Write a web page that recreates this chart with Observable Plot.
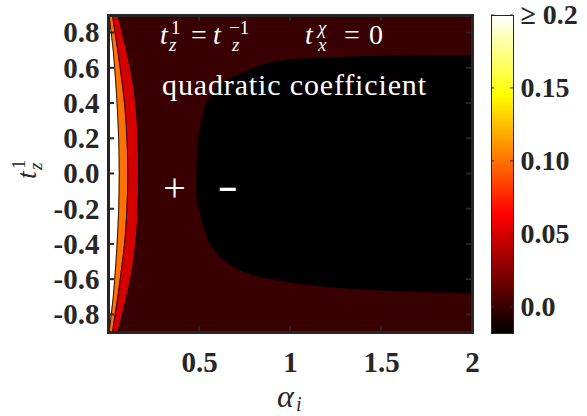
<!DOCTYPE html>
<html><head><meta charset="utf-8">
<script src="https://cdn.jsdelivr.net/npm/d3@7"></script>
<script src="https://cdn.jsdelivr.net/npm/@observablehq/plot@0.6"></script>
<style>
body{margin:0;background:#fff;}
#wrap{position:relative;width:587px;height:416px;overflow:hidden;}
#wrap svg{position:absolute;left:0;top:0;}
</style></head><body><div id="wrap"></div>
<script>
// ---------- data ----------
const tz = [0.9,0.8,0.7,0.6,0.5,0.4,0.3,0.2,0.1,0,-0.1,-0.2,-0.3,-0.4,-0.5,-0.6,-0.7,-0.8,-0.9];
const edgeWhite  = [0.004,0.015,0.026,0.034,0.041,0.047,0.052,0.056,0.058,0.059,0.058,0.056,0.052,0.047,0.041,0.034,0.026,0.015,0.004];
const edgeOrange = [0.022,0.036,0.051,0.064,0.077,0.088,0.096,0.101,0.105,0.106,0.105,0.101,0.096,0.088,0.077,0.064,0.051,0.036,0.022];
const edgeRed    = [0.052,0.077,0.100,0.121,0.138,0.150,0.158,0.163,0.165,0.166,0.165,0.163,0.158,0.150,0.138,0.121,0.100,0.077,0.052];
// boundary of the negative (black) region, x = alpha_i, y = t_z^1
const blackTz    = [0.675,0.672,0.668,0.660,0.647,0.620,0.584,0.540,0.470,0.400,0.340,0.190,0.000,-0.150,-0.210,-0.300,-0.400,-0.490,-0.567,-0.624,-0.664,-0.680];
const blackAlpha = [2.000,1.750,1.500,1.250,1.000,0.850,0.764,0.670,0.577,0.540,0.522,0.495,0.486,0.488,0.502,0.525,0.560,0.632,0.764,1.040,1.490,2.000];
// contour levels (fill value of each band)
const levelNegative = -0.018, levelBase = 0, levelRed = 0.05, levelOrange = 0.1, levelWhite = 0.2;
const alphaDomain = [0, 2];
const tzDomain = [-0.9, 0.9];
const xTicks = [0.5, 1, 1.5, 2];
const yTicks = [-0.8,-0.6,-0.4,-0.2,0,0.2,0.4,0.6,0.8];
const cDomain = [-0.018, 0.2];
const cTicks = [0, 0.05, 0.1, 0.15, 0.2];
const cTickLabels = ["0.0","0.05","0.10","0.15","\u2265 0.2"];
const plusPos = [0.363, -0.082];
const minusPos = [0.654, -0.077];

// ---------- "hot" colormap as a piecewise linear scale ----------
const hotBreaks = [0, 0.375, 0.75, 1];
const hotColors = ["#000000", "#ff0000", "#ffff00", "#ffffff"];
const colorOpts = {
  type: "linear",
  domain: hotBreaks.map(t => cDomain[0] + t * (cDomain[1] - cDomain[0])),
  range: hotColors,
  clamp: true
};

const rows = tz.map((y, i) => ({y, w: edgeWhite[i], o: edgeOrange[i], r: edgeRed[i]}));
const blackRows = blackTz.map((y, i) => ({y, x: blackAlpha[i]}));
const curve = "catmull-rom";
const axisColor = "#262626";
const tickFont = "'Liberation Serif', 'Times New Roman', serif";

const main = Plot.plot({
  width: 587, height: 416,
  marginLeft: 108, marginRight: 115, marginTop: 15, marginBottom: 84,
  style: {fontFamily: tickFont, fontWeight: "bold", fontSize: "29px", color: axisColor, background: "white"},
  x: {domain: alphaDomain},
  y: {domain: tzDomain},
  color: colorOpts,
  marks: [
    Plot.rect([levelBase], {x1: alphaDomain[0], x2: alphaDomain[1], y1: tzDomain[0], y2: tzDomain[1], fill: d => d}),
    Plot.areaX(blackRows, {y: "y", x1: "x", x2: alphaDomain[1], fill: () => levelNegative, curve}),
    Plot.areaX(rows, {y: "y", x1: alphaDomain[0], x2: "r", fill: () => levelRed, curve}),
    Plot.areaX(rows, {y: "y", x1: alphaDomain[0], x2: "o", fill: () => levelOrange, curve}),
    Plot.areaX(rows, {y: "y", x1: alphaDomain[0], x2: "w", fill: () => levelWhite, curve}),
    Plot.lineX(rows, {x: "r", y: "y", stroke: "black", strokeWidth: 0.8, curve}),
    Plot.lineX(rows, {x: "o", y: "y", stroke: "black", strokeWidth: 0.8, curve}),
    Plot.lineX(rows, {x: "w", y: "y", stroke: "black", strokeWidth: 0.8, curve}),
    Plot.text([plusPos], {x: d => d[0], y: d => d[1], text: () => "+", fill: "white", fontSize: 40, fontWeight: "normal", fontFamily: tickFont}),
    Plot.text([minusPos], {x: d => d[0], y: d => d[1], text: () => "\u2013", fill: "white", fontSize: 32, fontWeight: "bold", fontFamily: "'Liberation Sans', Arial, sans-serif"}),
    Plot.axisX(xTicks, {anchor: "bottom", tickSize: 0, tickPadding: 19, tickFormat: d => String(d), label: null}),
    Plot.axisY(yTicks, {anchor: "left", tickSize: 0, tickPadding: 9, tickFormat: d => d.toFixed(1), label: null}),
    Plot.frame({stroke: axisColor, strokeWidth: 3})
  ]
});

const sx = main.scale("x"), sy = main.scale("y");
const svg = d3.select(main);

// inward tick marks on all four sides, placed with the plot's scales
const tickLen = 6;
const [xr0, xr1] = sx.range, [yr0, yr1] = sy.range; // yr0 bottom, yr1 top
const tg = svg.append("g").attr("stroke", axisColor).attr("stroke-width", 2);
xTicks.forEach(v => {
  const px = sx.apply(v);
  tg.append("line").attr("x1", px).attr("x2", px).attr("y1", yr0).attr("y2", yr0 - tickLen);
  tg.append("line").attr("x1", px).attr("x2", px).attr("y1", yr1).attr("y2", yr1 + tickLen);
});
yTicks.forEach(v => {
  const py = sy.apply(v);
  tg.append("line").attr("y1", py).attr("y2", py).attr("x1", xr0).attr("x2", xr0 + tickLen);
  tg.append("line").attr("y1", py).attr("y2", py).attr("x1", xr1).attr("x2", xr1 - tickLen);
});

// LaTeX-like texts
const serif = "'Liberation Serif', 'Times New Roman', serif";
function piece(parent, x, y, str, size, italic, fill) {
  return parent.append("text").attr("x", x).attr("y", y).attr("font-size", size)
    .attr("text-anchor", "start")
    .attr("font-style", italic ? "italic" : "normal").attr("font-weight", "normal")
    .attr("font-family", serif).attr("fill", fill).text(str);
}
const ann = svg.append("g");
const a1x = sx.apply(0.28), a1y = sy.apply(0.738);
const line1 = [
  [1, 0, "t", 28, true], [12, -10, "1", 19, false], [10, 7, "z", 19, true],
  [32, 0, "=", 28, false],
  [54, 0, "t", 28, true], [70, -10, "\u22121", 19, false], [73, 7, "z", 19, true],
  [146, 0, "t", 28, true], [159, -10, "\u03c7", 19, true], [159, 7, "x", 19, true],
  [185, 0, "=", 28, false], [210, 0, "0", 28, false]
];
line1.forEach(([dx, dy, s, fs, it]) => piece(ann, a1x + dx, a1y + dy, s, fs, it, "white"));
piece(ann, sx.apply(0.297), sy.apply(0.443), "quadratic coefficient", 30, false, "white")
  .attr("textLength", 264).attr("lengthAdjust", "spacing");

// axis labels
const xl = svg.append("g");
const xMid = (xr0 + xr1) / 2;
piece(xl, xMid - 13, 407, "\u03b1", 32, true, "#262626");
piece(xl, xMid + 6, 411, "i", 20, true, "#262626");
const yl = svg.append("g").attr("transform", `translate(36,179) rotate(-90)`);
piece(yl, 0, 0, "t", 28, true, "#262626");
piece(yl, 10, -11, "1", 19, false, "#262626");
piece(yl, 9, 6, "z", 19, true, "#262626");

// ---------- colorbar ----------
const cbar = Plot.plot({
  width: 587, height: 416,
  marginLeft: 491, marginRight: 74, marginTop: 15, marginBottom: 83,
  style: {fontFamily: tickFont, fontWeight: "bold", fontSize: "28px", color: axisColor, background: "transparent"},
  x: {domain: [0, 1], axis: null},
  y: {domain: cDomain, axis: null},
  color: colorOpts,
  marks: [
    Plot.raster({x1: 0, x2: 1, y1: cDomain[0], y2: cDomain[1], width: 1, height: 318, fill: (x, y) => y, imageRendering: "auto"}),
    Plot.axisY(cTicks, {anchor: "right", tickSize: 0, tickPadding: 7, tickFormat: d => cTickLabels[cTicks.indexOf(d)], label: null}),
    Plot.frame({stroke: axisColor, strokeWidth: 1})
  ]
});
const cy = cbar.scale("y"), cx = cbar.scale("x");
const cg = d3.select(cbar).append("g").attr("stroke", axisColor).attr("stroke-width", 1);
cTicks.forEach(v => {
  const py = cy.apply(v);
  cg.append("line").attr("x1", cx.range[1]).attr("x2", cx.range[1] - 3).attr("y1", py).attr("y2", py);
  cg.append("line").attr("x1", cx.range[0]).attr("x2", cx.range[0] + 3).attr("y1", py).attr("y2", py);
});

const wrap = document.getElementById("wrap");
wrap.appendChild(main);
wrap.appendChild(cbar);
</script></body></html>
